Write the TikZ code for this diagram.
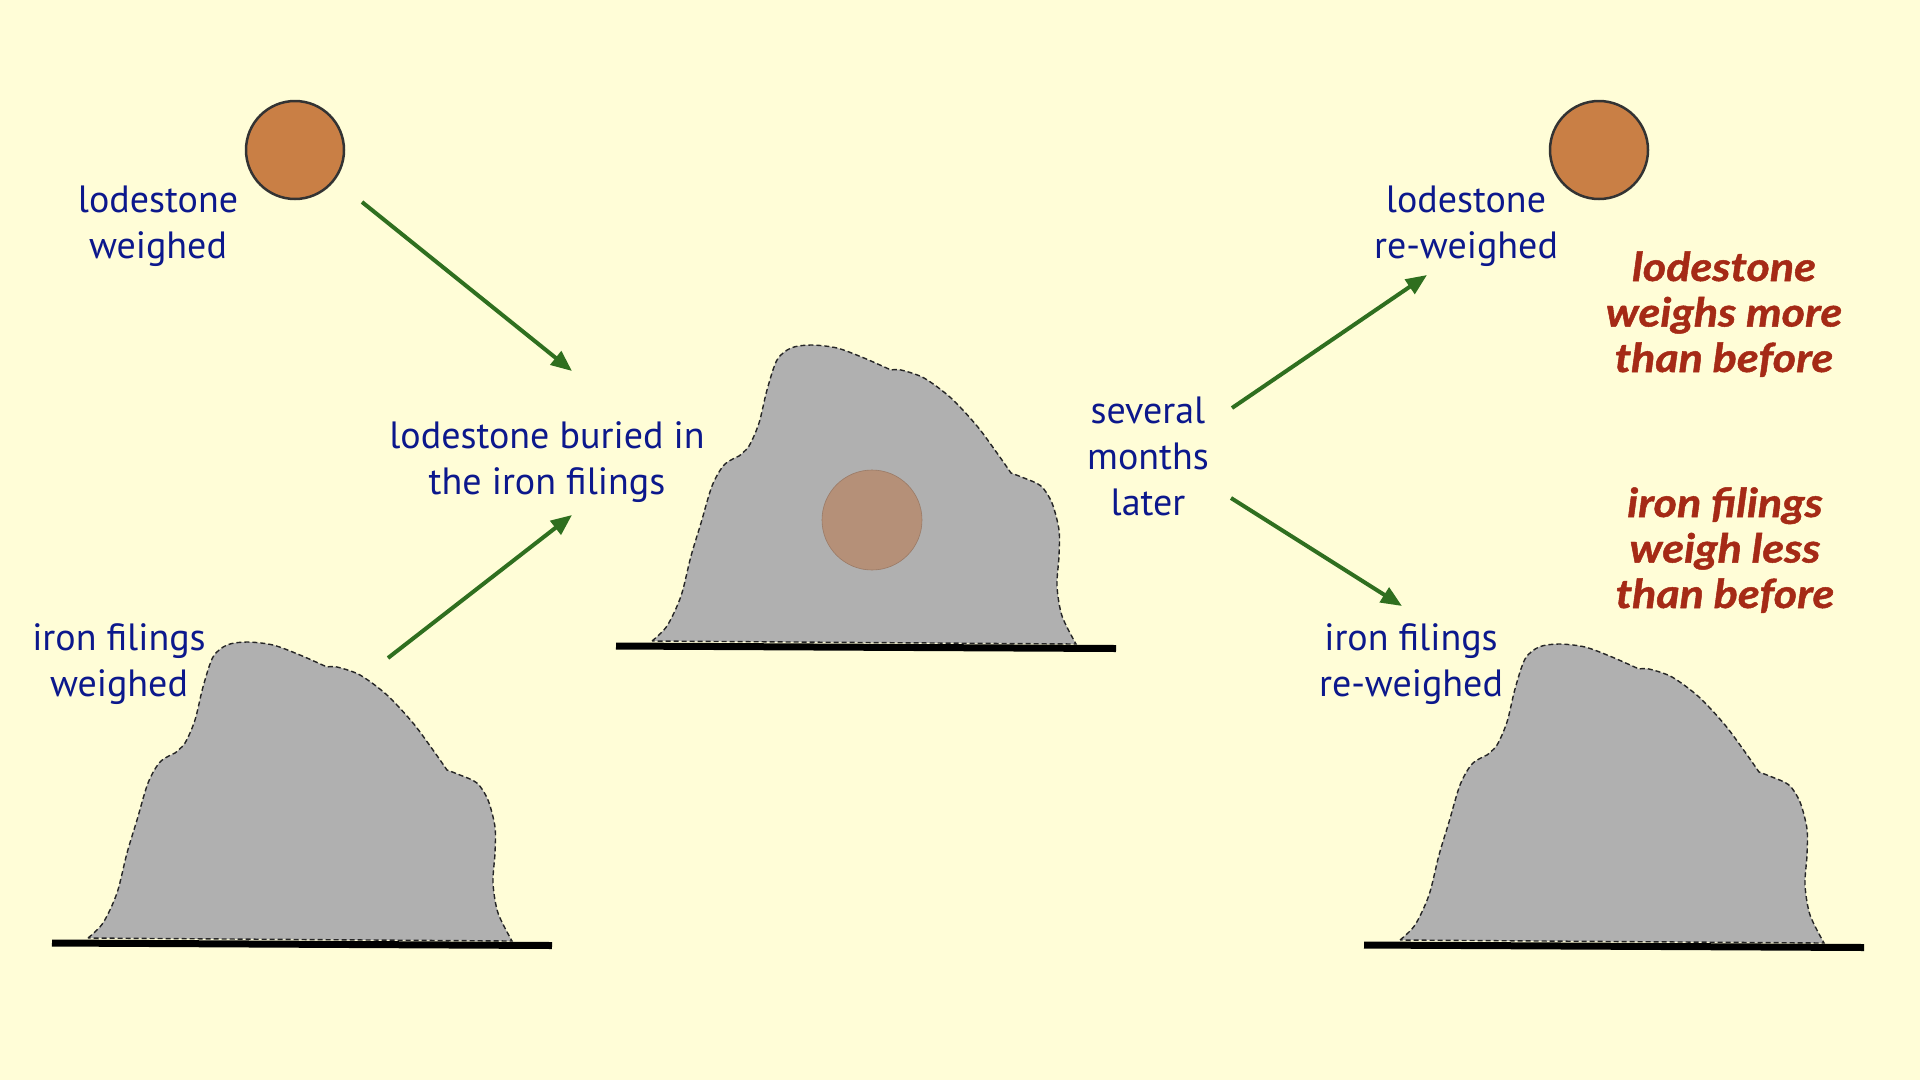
\documentclass[tikz,border=0pt]{standalone}
\usepackage{fontspec}
\setmainfont{PT Sans}
\newfontfamily\verdictfont{Lato}[FakeStretch=1.12, BoldItalicFeatures={FakeBold=1.2}]
\usetikzlibrary{arrows.meta}

\definecolor{paper}{RGB}{255,253,215}
\definecolor{inkblue}{RGB}{12,24,140}
\definecolor{inkred}{RGB}{165,42,22}
\definecolor{leafgreen}{RGB}{47,111,31}
\definecolor{rust}{RGB}{201,127,69}
\definecolor{buriedrust}{RGB}{181,144,120}
\definecolor{heapgray}{RGB}{176,176,176}

\tikzset{
  caption/.style={text=inkblue, align=center, anchor=base, inner sep=0pt,
    font=\fontsize{38}{46}\selectfont},
  verdict/.style={caption, text=inkred,
    font=\fontsize{40}{45.5}\verdictfont\bfseries\itshape},
  push/.style={draw=leafgreen, line width=4pt, -{Triangle[length=21pt,width=17pt]}},
  stone/.style={circle, draw=black!80, line width=2.5pt, fill=rust,
    minimum size=98pt, inner sep=0pt},
  heap/.style={draw=black!85, fill=heapgray, dash pattern=on 5pt off 3pt, line width=1.4pt},
  ground/.style={line width=7pt, black}
}

% one heap of filings on its table, shifted by (#1,#2)
\def\filingpile(#1,#2){%
  \begin{scope}[shift={(#1,#2)}]
    \draw[heap] plot[smooth] coordinates {(88,938) (103,923) (117,893) (127,853) (137,820) (148,783) (160,762) (175,753)}
      -- plot[smooth] coordinates {(175,753) (185,743) (195,720) (203,687) (213,657) (227,645) (247,642) (273,645) (300,655) (327,667)}
      -- plot[smooth] coordinates {(327,667) (337,667) (360,675) (387,695) (413,723) (433,750) (447,770)}
      -- plot[smooth] coordinates {(447,770) (460,775) (477,783) (488,800) (495,827) (495,853) (493,883) (498,913) (512,941)}
      -- cycle;
    \draw[ground] (52,943) -- (552,945.5);
  \end{scope}}

\begin{document}
\begin{tikzpicture}[x=1pt, y=-1pt]
  %%%%% START %%%%%

  \fill[paper] (0,0) rectangle (1920,1080);
  \useasboundingbox (0,0) rectangle (1920,1080);

  % the three heaps
  \filingpile(0,0)
  \filingpile(564,-297)
  \filingpile(1312,2)

  % lodestones
  \node[stone] (stone1) at (295,150) {};
  \node[stone] (stone2) at (1599,150) {};
  \node[circle, fill=buriedrust, draw=buriedrust!85!black, line width=0.6pt,
    minimum size=100pt, inner sep=0pt] (buried) at (872,520) {};

  % captions (placed by the baseline of their last line)
  \node[caption] (lw) at (158,258) {lodestone\\weighed};
  \node[caption] (inside) at (547,494) {lodestone buried in\\the iron filings};
  \node[caption] (ifw) at (119,696) {iron filings\\weighed};
  \node[caption] (later) at (1148,515) {several\\months\\later};
  \node[caption] (lrw) at (1466,258) {lodestone\\re-weighed};
  \node[caption] (ifrw) at (1411,696) {iron filings\\re-weighed};
  \node[verdict] (more) at (1724,372) {lodestone\\weighs more\\than before};
  \node[verdict] (less) at (1725,608) {iron filings\\weigh less\\than before};

  % arrows
  \coordinate (a1s) at (362,202);
  \coordinate (a1e) at (572,371);
  \coordinate (a2s) at (388,658);
  \coordinate (a2e) at (572,515);
  \coordinate (a3s) at (1232,408);
  \coordinate (a3e) at (1427,275);
  \coordinate (a4s) at (1231,498);
  \coordinate (a4e) at (1402,606);
  \draw[push] (a1s) -- (a1e);
  \draw[push] (a2s) -- (a2e);
  \draw[push] (a3s) -- (a3e);
  \draw[push] (a4s) -- (a4e);

  %%%%% END %%%%%
\end{tikzpicture}
\end{document}
